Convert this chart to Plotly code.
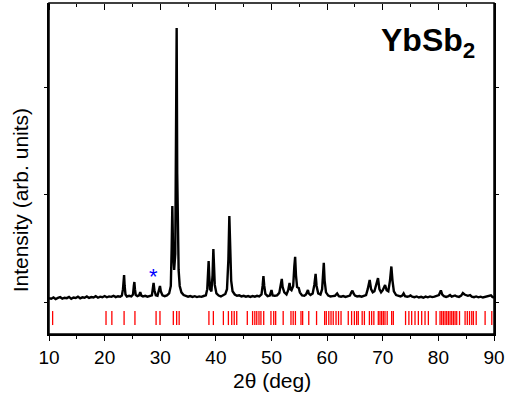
import plotly.graph_objects as go

# XRD pattern (2theta in degrees, intensity in arb. units)
two_theta = [
    10.0, 10.4, 10.8, 11.2, 11.6, 12.0, 12.4, 12.8, 13.2, 13.6, 14.0, 14.4, 14.8, 15.2, 15.6,
    16.0, 16.4, 16.8, 17.2, 17.6, 18.0, 18.4, 18.8, 19.2, 19.6, 20.0, 20.4, 20.8, 21.2, 21.6,
    22.0, 22.4, 22.8, 23.1, 23.3, 23.45, 23.5, 23.6, 23.75, 24.0, 24.4, 24.8, 25.1, 25.25,
    25.35, 25.45, 25.6, 25.9, 26.2, 26.4, 26.6, 26.9, 27.3, 27.7, 28.1, 28.5, 28.65, 28.8,
    28.95, 29.2, 29.5, 29.75, 29.95, 30.1, 30.4, 30.8, 31.2, 31.6, 31.9, 32.05, 32.17, 32.3,
    32.5, 32.7, 32.85, 32.95, 33.05, 33.15, 33.3, 33.5, 33.8, 34.2, 34.6, 35.0, 35.4, 35.8,
    36.2, 36.6, 37.0, 37.4, 37.8, 38.2, 38.45, 38.6, 38.7, 38.8, 38.95, 39.2, 39.4, 39.55,
    39.65, 39.8, 40.1, 40.5, 40.9, 41.3, 41.7, 42.0, 42.25, 42.42, 42.55, 42.75, 43.0, 43.4,
    43.8, 44.2, 44.6, 45.0, 45.4, 45.8, 46.2, 46.6, 47.0, 47.4, 47.8, 48.2, 48.4, 48.55, 48.7,
    48.9, 49.3, 49.7, 50.0, 50.2, 50.6, 51.0, 51.4, 51.7, 51.85, 52.0, 52.3, 52.7, 53.0, 53.25,
    53.4, 53.6, 53.9, 54.1, 54.25, 54.4, 54.6, 54.9, 55.1, 55.5, 55.9, 56.2, 56.4, 56.55, 56.7,
    57.0, 57.4, 57.7, 57.93, 58.1, 58.4, 58.8, 59.1, 59.25, 59.4, 59.55, 59.8, 60.2, 60.6, 61.0,
    61.4, 61.8, 62.1, 62.5, 62.9, 63.3, 63.7, 64.1, 64.35, 64.55, 64.75, 65.0, 65.4, 65.8, 66.2,
    66.6, 67.0, 67.3, 67.65, 67.9, 68.2, 68.5, 68.8, 69.15, 69.4, 69.7, 70.0, 70.42, 70.7, 71.0,
    71.3, 71.55, 71.75, 72.0, 72.4, 72.8, 73.2, 73.5, 73.75, 74.0, 74.4, 74.8, 75.0, 75.3, 75.7,
    76.1, 76.5, 76.9, 77.3, 77.7, 78.1, 78.5, 78.9, 79.3, 79.7, 80.1, 80.45, 80.7, 81.0, 81.4,
    81.8, 82.1, 82.4, 82.7, 83.0, 83.3, 83.7, 84.1, 84.4, 84.7, 85.0, 85.3, 85.7, 86.0, 86.4,
    86.8, 87.2, 87.6, 88.0, 88.4, 88.8, 89.2, 89.45, 89.7, 90.0,
]
intensity = [
    35, 30, 42, 28, 38, 45, 32, 40, 36, 48, 30, 42, 38, 50, 35,
    44, 40, 52, 38, 46, 42, 55, 40, 50, 45, 56, 44, 52, 48, 58,
    46, 54, 50, 60, 120, 240, 252, 150, 70, 50, 58, 52, 70, 150,
    187, 120, 65, 55, 62, 93, 60, 52, 58, 50, 56, 62, 120, 178,
    110, 62, 58, 100, 150, 100, 62, 55, 62, 80, 150, 500, 897, 500,
    300, 450, 1500, 2561, 1200, 607, 300, 150, 90, 65, 55, 50, 56, 48,
    54, 46, 52, 48, 56, 62, 120, 330, 383, 250, 120, 100, 250, 495,
    400, 160, 80, 60, 52, 60, 75, 120, 400, 804, 500, 200, 100, 70,
    58, 62, 52, 58, 50, 56, 48, 55, 50, 58, 52, 70, 150, 243, 150,
    75, 55, 60, 112, 62, 58, 62, 85, 170, 215, 140, 90, 70, 110, 178,
    120, 110, 150, 330, 423, 250, 140, 131, 90, 62, 58, 70, 100, 112, 80,
    65, 80, 160, 262, 150, 80, 70, 120, 280, 367, 200, 90, 60, 52, 55,
    58, 80, 55, 50, 56, 48, 55, 60, 90, 106, 80, 60, 52, 56, 50,
    58, 65, 120, 206, 120, 90, 100, 150, 224, 120, 90, 110, 159, 110, 100,
    200, 332, 200, 100, 65, 55, 52, 60, 80, 55, 50, 55, 61, 50, 45,
    52, 42, 48, 40, 50, 44, 52, 46, 50, 55, 65, 109, 70, 55, 48,
    55, 65, 50, 55, 61, 52, 48, 60, 84, 70, 62, 58, 65, 50, 45,
    52, 44, 50, 42, 48, 50, 55, 63, 48, 42,
]

# Bragg reflection positions (red tick marks)
reflections = [
    10.65, 20.25, 21.3, 23.5, 25.45, 29.25, 29.95, 32.35, 32.95, 33.4, 38.75, 39.55,
    41.35, 42.25, 42.85, 43.3, 43.75, 45.65, 46.6, 47.0, 47.35, 47.75, 48.1, 48.6, 49.9,
    50.4, 50.75, 52.1, 53.5, 53.9, 54.3, 55.3, 55.6, 56.7, 58.1, 59.55, 59.85, 60.3, 60.7,
    61.1, 61.6, 62.05, 62.5, 63.8, 64.4, 64.9, 65.3, 65.6, 66.3, 66.7, 67.6, 68.0, 68.4,
    69.2, 69.5, 69.8, 70.1, 70.4, 70.8, 71.6, 71.9, 74.1, 74.7, 75.2, 75.8, 76.4, 77.0,
    77.6, 78.2, 79.6, 80.3, 80.6, 80.9, 81.2, 81.5, 81.8, 82.1, 82.4, 82.7, 83.0, 83.3,
    83.8, 84.8, 85.2, 85.6, 86.0, 86.3, 86.8, 88.4, 89.6,
]
reflection_level = -150

# impurity marker
impurity_x = [28.75]
impurity_y = [215]

x_ticks = [10, 20, 30, 40, 50, 60, 70, 80, 90]
x_ticklabels = [str(v) for v in x_ticks]
y_ticks = [0, 1000, 2000]

FONT = "Liberation Sans, Arial, sans-serif"

fig = go.Figure()
fig.add_trace(go.Scatter(
    x=two_theta, y=intensity, mode="lines",
    line=dict(color="black", width=2.4), showlegend=False, hoverinfo="skip",
))
fig.add_trace(go.Scatter(
    x=reflections, y=[reflection_level] * len(reflections), mode="markers",
    marker=dict(symbol="line-ns", size=10, line=dict(color="red", width=1.3)),
    showlegend=False, hoverinfo="skip",
))
fig.add_trace(go.Scatter(
    x=impurity_x, y=impurity_y, mode="text", text=["*"],
    textfont=dict(color="blue", size=22, family=FONT), textposition="middle center",
    showlegend=False, hoverinfo="skip",
))
# hidden trace in a hair-thin subplot at the top edge; its x-axis carries the top ticks
fig.add_trace(go.Scatter(
    x=[50], y=[0], xaxis="x2", yaxis="y2", mode="markers",
    marker=dict(opacity=0), showlegend=False, hoverinfo="skip",
))

fig.add_annotation(
    x=0.962, y=0.882, xref="paper", yref="paper", xanchor="right", yanchor="middle",
    text="<b>YbSb<sub>2</sub></b>", showarrow=False,
    font=dict(family=FONT, size=32, color="black"),
)
# axis titles as annotations
fig.add_annotation(
    x=-0.062, y=0.405, xref="paper", yref="paper", xanchor="center", yanchor="middle",
    text="Intensity (arb. units)", textangle=-90, showarrow=False,
    font=dict(family=FONT, size=21, color="black"),
)
fig.add_annotation(
    x=0.5, y=-0.139, xref="paper", yref="paper", xanchor="center", yanchor="middle",
    text="2θ (deg)", showarrow=False,
    font=dict(family=FONT, size=21, color="black"),
)

# plot frame
fig.add_shape(type="rect", xref="paper", yref="paper", x0=0, x1=1, y0=0, y1=1,
              line=dict(color="black", width=1.5), fillcolor="rgba(0,0,0,0)", layer="above")

fig.update_layout(
    width=511, height=393,
    margin=dict(l=49, r=17, t=3, b=59, autoexpand=False),
    paper_bgcolor="white", plot_bgcolor="rgba(0,0,0,0)",
    font=dict(family=FONT, color="black"),
    xaxis=dict(
        range=[10, 90], tickvals=x_ticks, ticktext=x_ticklabels, automargin=False,
        ticks="outside", ticklen=5, tickwidth=1.2, tickcolor="black",
        minor=dict(dtick=5, tick0=10, ticks="outside", ticklen=3, tickwidth=1.2, tickcolor="black"),
        showline=True, linecolor="black", linewidth=1.5, mirror=False,
        showgrid=False, zeroline=False,
        tickfont=dict(size=19, family=FONT),
    ),
    yaxis=dict(
        domain=[0, 1],
        range=[-299, 2794], tickvals=y_ticks, showticklabels=False, automargin=False,
        ticks="outside", ticklen=3, tickwidth=1.2, tickcolor="black",
        showline=True, linecolor="black", linewidth=1.5, mirror="ticks",
        showgrid=False, zeroline=False,
    ),
    xaxis2=dict(
        anchor="y2", side="bottom", domain=[0, 1], range=[10, 90], tickvals=x_ticks,
        showticklabels=False, ticks="outside", ticklen=6, tickwidth=1.2, tickcolor="black",
        minor=dict(dtick=5, tick0=10, ticks="outside", ticklen=3, tickwidth=1.2, tickcolor="black"),
        showgrid=False, zeroline=False, showline=False, automargin=False,
    ),
    yaxis2=dict(
        anchor="x2", domain=[0.999, 1], range=[0, 1], visible=False,
        showgrid=False, zeroline=False, automargin=False,
    ),
)

fig.write_html(
    "out.html",
    config={"displayModeBar": False},
    post_script="document.body.style.margin='0';document.body.style.overflow='hidden';",
)
